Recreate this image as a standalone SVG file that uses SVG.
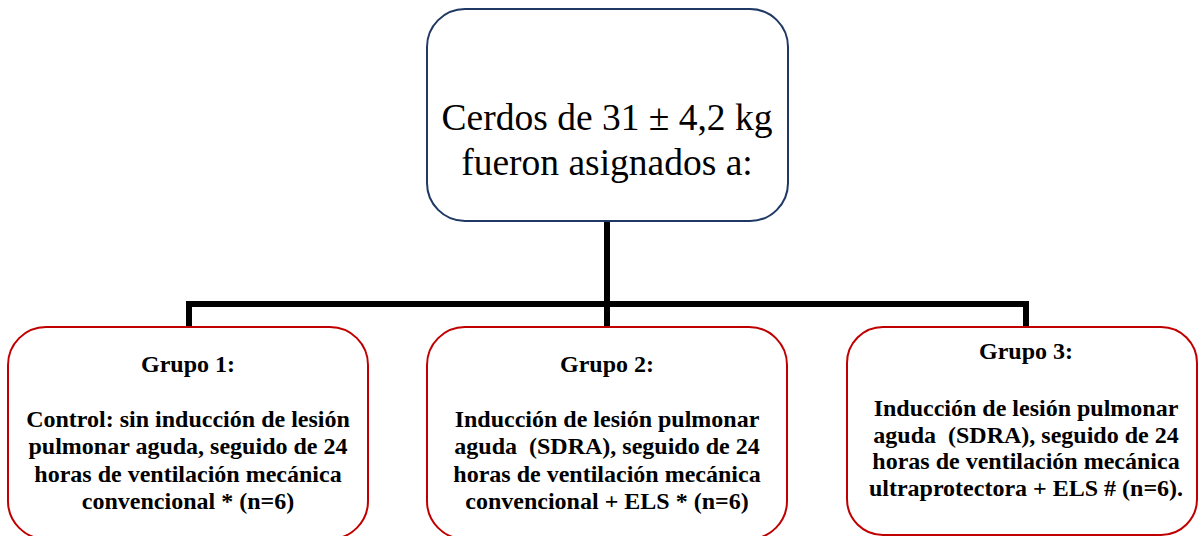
<svg xmlns="http://www.w3.org/2000/svg" width="1198" height="536" viewBox="0 0 1198 536">
<style>
.top{fill:#fff;stroke:#1F3864;stroke-width:2}
.grp{fill:#fff;stroke:#C00000;stroke-width:2}
text{font-family:'Liberation Serif','Times New Roman',Times,'DejaVu Serif',serif;fill:#000;text-anchor:middle;white-space:pre}
.t1{font-size:37.5px}
.t2{font-size:24px;font-weight:bold}
.conn{fill:none;stroke:#000;stroke-width:6;stroke-linejoin:miter;stroke-linecap:butt}
</style>
<rect width="1198" height="536" fill="#fff"/>
<g id="connectors">
<path class="conn" d="M607,221 V327"/>
<path class="conn" d="M189,327 V304 H1026 V327"/>
</g>
<g id="root">
<rect class="top" x="427" y="9" width="361" height="212" rx="38" ry="38"/>
<text class="t1" x="607" y="130">Cerdos de 31 ± 4,2 kg</text>
<text class="t1" x="607" y="175">fueron asignados a:</text>
</g>
<g id="grupo1">
<rect class="grp" x="8" y="327" width="360" height="212" rx="38" ry="38"/>
<text class="t2" x="188" y="372">Grupo 1:</text>
<text class="t2" x="188" y="427">Control: sin inducción de lesión</text>
<text class="t2" x="188" y="454">pulmonar aguda, seguido de 24</text>
<text class="t2" x="188" y="482">horas de ventilación mecánica</text>
<text class="t2" x="188" y="509">convencional * (n=6)</text>
</g>
<g id="grupo2">
<rect class="grp" x="427" y="327" width="360" height="212" rx="38" ry="38"/>
<text class="t2" x="607" y="372">Grupo 2:</text>
<text class="t2" x="607" y="427">Inducción de lesión pulmonar</text>
<text class="t2" x="607" y="454" xml:space="preserve">aguda  (SDRA), seguido de 24</text>
<text class="t2" x="607" y="482">horas de ventilación mecánica</text>
<text class="t2" x="607" y="509">convencional + ELS * (n=6)</text>
</g>
<g id="grupo3">
<rect class="grp" x="847" y="327" width="350" height="208" rx="36" ry="36"/>
<text class="t2" x="1026" y="359">Grupo 3:</text>
<text class="t2" x="1026" y="416">Inducción de lesión pulmonar</text>
<text class="t2" x="1026" y="443" xml:space="preserve">aguda  (SDRA), seguido de 24</text>
<text class="t2" x="1026" y="469">horas de ventilación mecánica</text>
<text class="t2" x="1026" y="496">ultraprotectora + ELS # (n=6).</text>
</g>
</svg>
